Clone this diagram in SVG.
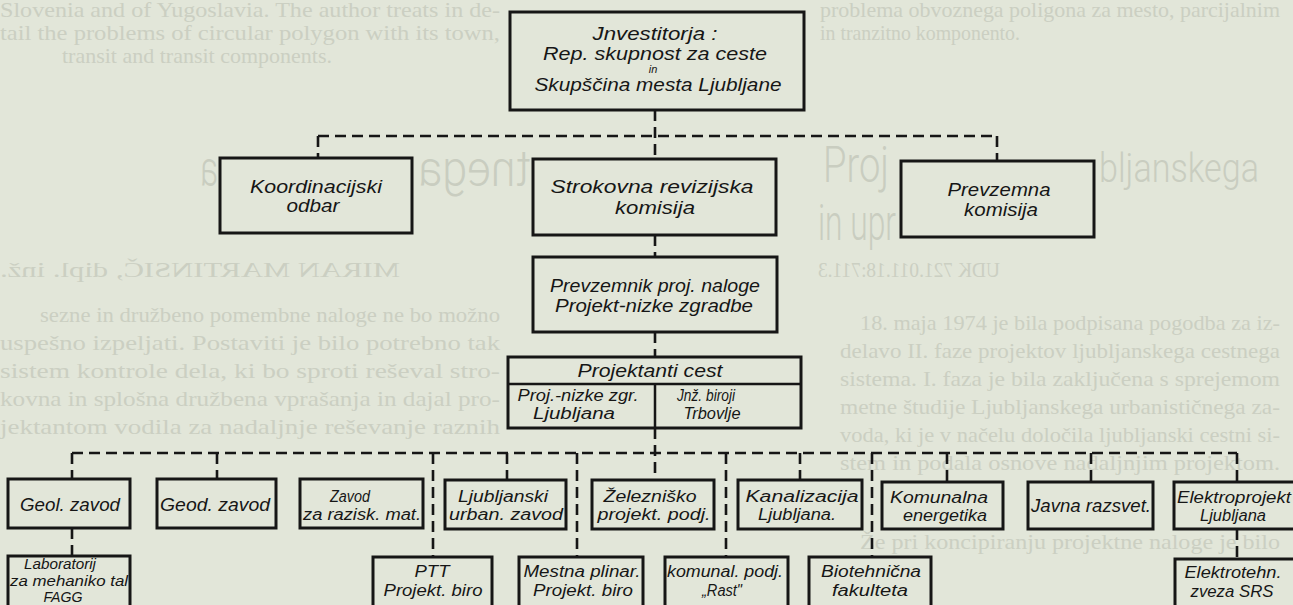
<svg xmlns="http://www.w3.org/2000/svg" width="1293" height="605" viewBox="0 0 1293 605">
<style>
.bgt{font-family:"Liberation Serif","Times New Roman",serif;font-size:21px;fill:#cbcfc2}
.ttl{font-family:Roboto,"Liberation Sans",sans-serif;font-weight:300;font-size:50px;fill:#c9cdc0}
.box{fill:#e2e6d9;stroke:#161616;stroke-width:3}
.div{stroke:#161616;stroke-width:2.5;fill:none}
.con{stroke:#161616;stroke-width:2.6;stroke-dasharray:11 6;fill:none}
.lbl{font-family:"Liberation Sans",Arial,sans-serif;font-style:italic;font-size:18px;fill:#161616;text-anchor:middle}
.s16{font-size:16px}
.s14{font-size:14px}
.sm{font-size:11px}
</style>
<rect width="1293" height="605" fill="#e2e6d9"/>
<g id="background-text">
<text class="bgt" x="0" y="17" textLength="500" lengthAdjust="spacingAndGlyphs">Slovenia and of Yugoslavia. The author treats in de-</text>
<text class="bgt" x="0" y="40" textLength="500" lengthAdjust="spacingAndGlyphs">tail the problems of circular polygon with its town,</text>
<text class="bgt" x="62" y="63" textLength="270" lengthAdjust="spacingAndGlyphs">transit and transit components.</text>
<text class="bgt" x="820" y="17" textLength="460" lengthAdjust="spacingAndGlyphs">problema obvoznega poligona za mesto, parcijalnim</text>
<text class="bgt" x="820" y="40" textLength="200" lengthAdjust="spacingAndGlyphs">in tranzitno komponento.</text>
<text class="ttl" x="823" y="182" textLength="66" lengthAdjust="spacingAndGlyphs">Proj</text>
<text class="ttl" style="font-size:40px" x="1099" y="182" textLength="160" lengthAdjust="spacingAndGlyphs">bljanskega</text>
<text class="ttl" transform="translate(530,0) scale(-1,1)" x="0" y="186" textLength="112" lengthAdjust="spacingAndGlyphs">tnega</text>
<text class="ttl" transform="translate(218,0) scale(-1,1)" x="0" y="186" textLength="18" lengthAdjust="spacingAndGlyphs">a</text>
<text class="ttl" x="818" y="240" textLength="78" lengthAdjust="spacingAndGlyphs">in upr</text>
<text class="bgt" transform="translate(1000,0) scale(-1,1)" x="0" y="277" textLength="182" lengthAdjust="spacingAndGlyphs">UDK 721.011.18:711.3</text>
<text class="bgt" transform="translate(400,0) scale(-1,1)" x="0" y="277" textLength="400" lengthAdjust="spacingAndGlyphs">MIRAN MARTINSIČ, dipl. inž.</text>
<text class="bgt" x="40" y="322" textLength="460" lengthAdjust="spacingAndGlyphs">sezne in družbeno pomembne naloge ne bo možno</text>
<text class="bgt" x="0" y="350" textLength="500" lengthAdjust="spacingAndGlyphs">uspešno izpeljati. Postaviti je bilo potrebno tak</text>
<text class="bgt" x="0" y="378" textLength="500" lengthAdjust="spacingAndGlyphs">sistem kontrole dela, ki bo sproti reševal stro-</text>
<text class="bgt" x="0" y="406" textLength="500" lengthAdjust="spacingAndGlyphs">kovna in splošna družbena vprašanja in dajal pro-</text>
<text class="bgt" x="0" y="434" textLength="500" lengthAdjust="spacingAndGlyphs">jektantom vodila za nadaljnje reševanje raznih</text>
<text class="bgt" x="860" y="330" textLength="420" lengthAdjust="spacingAndGlyphs">18. maja 1974 je bila podpisana pogodba za iz-</text>
<text class="bgt" x="840" y="358" textLength="440" lengthAdjust="spacingAndGlyphs">delavo II. faze projektov ljubljanskega cestnega</text>
<text class="bgt" x="840" y="386" textLength="440" lengthAdjust="spacingAndGlyphs">sistema. I. faza je bila zaključena s sprejemom</text>
<text class="bgt" x="840" y="414" textLength="440" lengthAdjust="spacingAndGlyphs">metne študije Ljubljanskega urbanističnega za-</text>
<text class="bgt" x="840" y="442" textLength="440" lengthAdjust="spacingAndGlyphs">voda, ki je v načelu določila ljubljanski cestni si-</text>
<text class="bgt" x="840" y="470" textLength="440" lengthAdjust="spacingAndGlyphs">stem in podala osnove nadaljnjim projektom.</text>
<text class="bgt" x="860" y="549" textLength="420" lengthAdjust="spacingAndGlyphs">Že pri koncipiranju projektne naloge je bilo</text>
</g>
<g id="connectors">
<path class="con" d="M655,110 V159"/>
<path class="con" d="M318,136 H997"/>
<path class="con" d="M318,136 V158"/>
<path class="con" d="M997,136 V161"/>
<path class="con" d="M655,235 V257"/>
<path class="con" d="M655,332 V357"/>
<path class="con" d="M655,428 V480"/>
<path class="con" d="M72,453 H1237"/>
<path class="con" d="M72,453 V479"/>
<path class="con" d="M217,453 V479"/>
<path class="con" d="M433,453 V557"/>
<path class="con" d="M507,453 V480"/>
<path class="con" d="M577,453 V557"/>
<path class="con" d="M726,453 V557"/>
<path class="con" d="M800,453 V480"/>
<path class="con" d="M872,453 V557"/>
<path class="con" d="M947,453 V482"/>
<path class="con" d="M1091,453 V482"/>
<path class="con" d="M1237,453 V482"/>
<path class="con" d="M72,528 V556"/>
<path class="con" d="M1237,529 V559"/>
</g>
<g id="investitorja">
<rect class="box" x="510" y="12" width="294" height="98"/>
<text class="lbl" x="655" y="40" textLength="125" lengthAdjust="spacingAndGlyphs">Jnvestitorja :</text>
<text class="lbl" x="655" y="60" textLength="224" lengthAdjust="spacingAndGlyphs">Rep. skupnost za ceste</text>
<text class="lbl sm" x="653" y="73">in</text>
<text class="lbl" x="658" y="91" textLength="247" lengthAdjust="spacingAndGlyphs">Skupščina mesta Ljubljane</text>
</g>
<g id="koordinacijski">
<rect class="box" x="220" y="158" width="192" height="75"/>
<text class="lbl" x="316" y="193" textLength="132" lengthAdjust="spacingAndGlyphs">Koordinacijski</text>
<text class="lbl" x="313" y="212" textLength="53" lengthAdjust="spacingAndGlyphs">odbar</text>
</g>
<g id="strokovna">
<rect class="box" x="533" y="159" width="243" height="76"/>
<text class="lbl" x="652" y="193" textLength="203" lengthAdjust="spacingAndGlyphs">Strokovna revizijska</text>
<text class="lbl" x="655" y="214" textLength="80" lengthAdjust="spacingAndGlyphs">komisija</text>
</g>
<g id="prevzemna">
<rect class="box" x="901" y="161" width="193" height="76"/>
<text class="lbl" x="999" y="196" textLength="103" lengthAdjust="spacingAndGlyphs">Prevzemna</text>
<text class="lbl" x="1001" y="216" textLength="74" lengthAdjust="spacingAndGlyphs">komisija</text>
</g>
<g id="prevzemnik">
<rect class="box" x="533" y="257" width="244" height="75"/>
<text class="lbl" x="655" y="292" textLength="210" lengthAdjust="spacingAndGlyphs">Prevzemnik proj. naloge</text>
<text class="lbl" x="654" y="312" textLength="198" lengthAdjust="spacingAndGlyphs">Projekt-nizke zgradbe</text>
</g>
<g id="projektanti">
<rect class="box" x="508" y="357" width="293" height="71"/>
<path class="div" d="M508,384 H801 M655,384 V428"/>
<text class="lbl" x="650" y="377" textLength="145" lengthAdjust="spacingAndGlyphs">Projektanti cest</text>
<text class="lbl s16" x="578" y="401" textLength="121" lengthAdjust="spacingAndGlyphs">Proj.-nizke zgr.</text>
<text class="lbl s16" x="574" y="419" textLength="82" lengthAdjust="spacingAndGlyphs">Ljubljana</text>
<text class="lbl s16" x="706" y="401" textLength="58" lengthAdjust="spacingAndGlyphs">Jnž. biroji</text>
<text class="lbl s16" x="712" y="419" textLength="57" lengthAdjust="spacingAndGlyphs">Trbovlje</text>
</g>
<g id="geol">
<rect class="box" x="8" y="479" width="122" height="49"/>
<text class="lbl" x="70" y="511" textLength="100" lengthAdjust="spacingAndGlyphs">Geol. zavod</text>
</g>
<g id="geod">
<rect class="box" x="157" y="479" width="119" height="49"/>
<text class="lbl" x="215" y="511" textLength="110" lengthAdjust="spacingAndGlyphs">Geod. zavod</text>
</g>
<g id="zavod">
<rect class="box" x="300" y="479" width="123" height="49"/>
<text class="lbl s16" x="350" y="502" textLength="40" lengthAdjust="spacingAndGlyphs">Zavod</text>
<text class="lbl s16" x="362" y="520" textLength="118" lengthAdjust="spacingAndGlyphs">za razisk. mat.</text>
</g>
<g id="ljubljanski">
<rect class="box" x="445" y="480" width="121" height="49"/>
<text class="lbl s16" x="503" y="502" textLength="90" lengthAdjust="spacingAndGlyphs">Ljubljanski</text>
<text class="lbl s16" x="506" y="520" textLength="114" lengthAdjust="spacingAndGlyphs">urban. zavod</text>
</g>
<g id="zelezniško">
<rect class="box" x="592" y="480" width="122" height="49"/>
<text class="lbl s16" x="650" y="502" textLength="93" lengthAdjust="spacingAndGlyphs">Železniško</text>
<text class="lbl s16" x="654" y="520" textLength="113" lengthAdjust="spacingAndGlyphs">projekt. podj.</text>
</g>
<g id="kanalizacija">
<rect class="box" x="738" y="480" width="124" height="49"/>
<text class="lbl s16" x="802" y="502" textLength="113" lengthAdjust="spacingAndGlyphs">Kanalizacija</text>
<text class="lbl s16" x="797" y="520" textLength="78" lengthAdjust="spacingAndGlyphs">Ljubljana.</text>
</g>
<g id="komunalna">
<rect class="box" x="882" y="482" width="121" height="47"/>
<text class="lbl s16" x="939" y="503" textLength="98" lengthAdjust="spacingAndGlyphs">Komunalna</text>
<text class="lbl s16" x="945" y="521" textLength="84" lengthAdjust="spacingAndGlyphs">energetika</text>
</g>
<g id="javna">
<rect class="box" x="1028" y="482" width="125" height="47"/>
<text class="lbl" x="1091" y="512" textLength="120" lengthAdjust="spacingAndGlyphs">Javna razsvet.</text>
</g>
<g id="elektroprojekt">
<rect class="box" x="1174" y="482" width="126" height="47"/>
<text class="lbl s16" x="1234" y="503" textLength="114" lengthAdjust="spacingAndGlyphs">Elektroprojekt</text>
<text class="lbl s16" x="1233" y="521" textLength="66" lengthAdjust="spacingAndGlyphs">Ljubljana</text>
</g>
<g id="laboratorij">
<rect class="box" x="8" y="556" width="122" height="60"/>
<text class="lbl s14" x="60" y="569" textLength="72" lengthAdjust="spacingAndGlyphs">Laboratorij</text>
<text class="lbl s14" x="69" y="586" textLength="118" lengthAdjust="spacingAndGlyphs">za mehaniko tal</text>
<text class="lbl s14" x="63" y="602" textLength="39" lengthAdjust="spacingAndGlyphs">FAGG</text>
</g>
<g id="ptt">
<rect class="box" x="373" y="557" width="119" height="60"/>
<text class="lbl s16" x="432" y="577" textLength="35" lengthAdjust="spacingAndGlyphs">PTT</text>
<text class="lbl s16" x="433" y="596" textLength="99" lengthAdjust="spacingAndGlyphs">Projekt. biro</text>
</g>
<g id="mestna">
<rect class="box" x="519" y="557" width="124" height="60"/>
<text class="lbl s16" x="582" y="577" textLength="117" lengthAdjust="spacingAndGlyphs">Mestna plinar.</text>
<text class="lbl s16" x="583" y="596" textLength="100" lengthAdjust="spacingAndGlyphs">Projekt. biro</text>
</g>
<g id="komunal">
<rect class="box" x="665" y="557" width="123" height="60"/>
<text class="lbl s16" x="725" y="577" textLength="116" lengthAdjust="spacingAndGlyphs">komunal. podj.</text>
<text class="lbl s16" x="722" y="596" textLength="40" lengthAdjust="spacingAndGlyphs">„Rast"</text>
</g>
<g id="biotehnicna">
<rect class="box" x="809" y="557" width="122" height="60"/>
<text class="lbl s16" x="871" y="577" textLength="100" lengthAdjust="spacingAndGlyphs">Biotehnična</text>
<text class="lbl s16" x="870" y="596" textLength="76" lengthAdjust="spacingAndGlyphs">fakulteta</text>
</g>
<g id="elektrotehn">
<rect class="box" x="1175" y="559" width="125" height="60"/>
<text class="lbl s16" x="1233" y="578" textLength="97" lengthAdjust="spacingAndGlyphs">Elektrotehn.</text>
<text class="lbl s16" x="1232" y="597" textLength="83" lengthAdjust="spacingAndGlyphs">zveza SRS</text>
</g>
</svg>
